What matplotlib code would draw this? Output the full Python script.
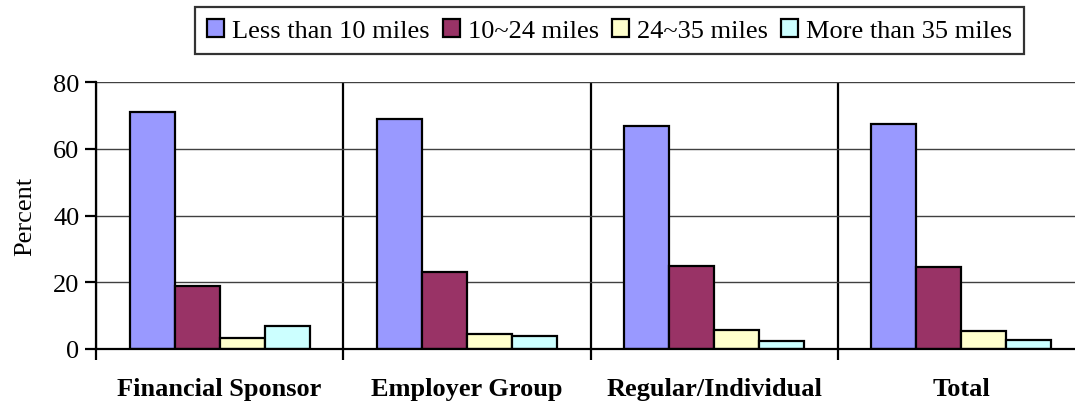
import matplotlib
matplotlib.use("Agg")
import matplotlib.pyplot as plt
import numpy as np

# Commute distance by member type
categories = ["Financial Sponsor", "Employer Group", "Regular/Individual", "Total"]
series_names = ["Less than 10 miles", "10~24 miles", "24~35 miles", "More than 35 miles"]
less_than_10 = [71.0, 69.0, 67.0, 67.5]
from_10_to_24 = [19.0, 23.0, 25.0, 24.5]
from_24_to_35 = [3.2, 4.4, 5.8, 5.3]
more_than_35 = [7.0, 3.8, 2.3, 2.7]
y_ticks = [0, 20, 40, 60, 80]

series_values = [less_than_10, from_10_to_24, from_24_to_35, more_than_35]
colors = ["#9999FF", "#993366", "#FFFFCC", "#CCFFFF"]

plt.rcParams["font.family"] = ["Liberation Serif", "DejaVu Serif"]
FS = 19

fig = plt.figure(figsize=(10.75, 4.02), dpi=100)
ax = fig.add_axes([96 / 1075, 52 / 402, 989 / 1075, 266.7 / 402])

x = np.arange(len(categories))
bar_w = 0.182
handles = []
for i, (name, vals, col) in enumerate(zip(series_names, series_values, colors)):
    h = ax.bar(x + (i - 1.5) * bar_w, vals, width=bar_w, color=col,
               edgecolor="black", linewidth=1.6, label=name, zorder=3)
    handles.append(h)

ax.set_xlim(-0.5, len(categories) - 0.5)
ax.set_ylim(0, 80)
ax.set_yticks(y_ticks)

# category labels under the groups, separators on the boundaries
ax.set_xticks(x)
ax.set_xticklabels(categories, fontweight="bold", fontsize=FS)
ax.set_xticks(np.arange(-0.5, len(categories), 1.0), minor=True)
ax.tick_params(axis="x", which="major", length=0, pad=20)
ax.tick_params(axis="x", which="minor", length=8, width=1.6, direction="out", color="black")
ax.tick_params(axis="y", length=8, width=1.6, direction="out", labelsize=FS, pad=4)

ax.grid(axis="y", which="major", color="#404040", linewidth=1.0, zorder=0)
ax.grid(axis="x", which="minor", color="black", linewidth=1.6, zorder=1)

for side in ["top", "right"]:
    ax.spines[side].set_visible(False)
for side in ["left", "bottom"]:
    ax.spines[side].set_linewidth(1.6)
    ax.spines[side].set_zorder(4)

ax.set_ylabel("Percent", fontsize=FS, labelpad=12)

leg = fig.legend(handles=handles, labels=series_names, ncol=4,
                 loc="center", bbox_to_anchor=(609.5 / 1075, 1 - 31.5 / 402),
                 fontsize=FS, frameon=True, fancybox=False, shadow=False,
                 handlelength=0.65, handleheight=0.65, handletextpad=0.3,
                 columnspacing=0.5, borderpad=0.45, borderaxespad=0)
leg.get_frame().set_edgecolor("black")
leg.get_frame().set_linewidth(1.6)

fig.savefig("out.png", dpi=100)
